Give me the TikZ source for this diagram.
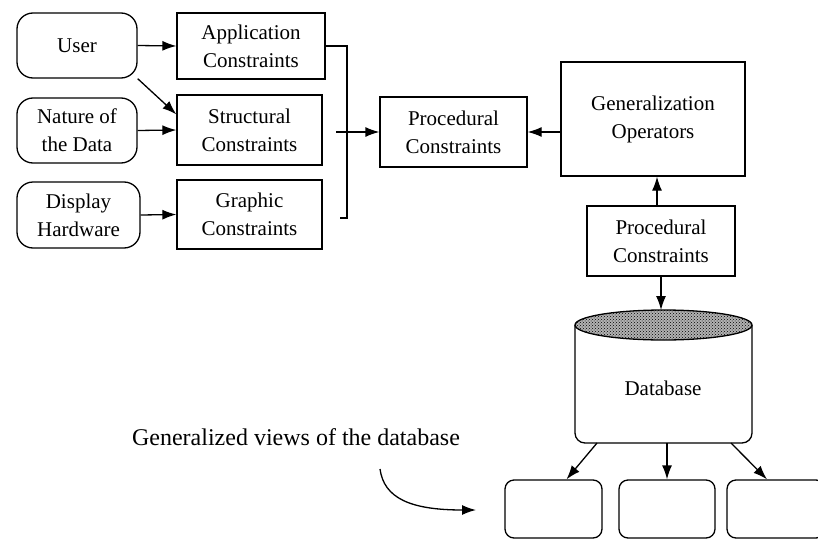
\documentclass[tikz,border=0pt]{standalone}
\usepackage{fontspec}
\setmainfont{Liberation Serif}
\usetikzlibrary{arrows.meta,patterns}
\begin{document}
\begin{tikzpicture}[x=1pt,y=-1pt,
  line width=1.3pt,
  every node/.style={font=\fontsize{21}{28}\selectfont, align=center, inner sep=0pt},
  source/.style={draw, rounded corners=16pt},
  cbox/.style={draw},
  view/.style={draw, rounded corners=9pt, minimum width=97pt, minimum height=58pt},
  arr/.style={-{Latex[length=14pt,width=10pt]}}]
\useasboundingbox (0,0) rectangle (818,543);

% sources of constraints
\node[source, minimum width=120pt, minimum height=65pt] (user) at (77,45.5) {User};
\node[source, minimum width=120pt, minimum height=65pt] (nat) at (77,130.5) {Nature of\\the Data};
\node[source, minimum width=123pt, minimum height=66pt] (disp) at (78.5,215) {Display\\Hardware};

% constraint groups
\node[cbox, minimum width=148pt, minimum height=66pt] (app) at (251,46) {Application\\Constraints};
\node[cbox, minimum width=145pt, minimum height=70pt] (struc) at (249.5,130) {Structural\\Constraints};
\node[cbox, minimum width=145pt, minimum height=69pt] (graph) at (249.5,214.5) {Graphic\\Constraints};

\node[cbox, minimum width=147pt, minimum height=70pt] (proc) at (453.5,132) {Procedural\\Constraints};
\node[cbox, minimum width=184pt, minimum height=114pt] (genop) at (653,119) {Generalization\\Operators};
\node[cbox, minimum width=148pt, minimum height=70pt] (proc2) at (661,241) {Procedural\\Constraints};

% database cylinder with a stippled top
\fill[black!30] (663.5,325) ellipse [x radius=88.5pt, y radius=15pt];
\fill[pattern=crosshatch dots, pattern color=black] (663.5,325) ellipse [x radius=88.5pt, y radius=15pt];
\draw (663.5,325) ellipse [x radius=88.5pt, y radius=15pt];
\draw[rounded corners=10pt] (575,325) -- (575,443) -- (752,443) -- (752,325);
\node (db) at (663,388) {Database};
\coordinate (dbtop) at (661,310);
\coordinate (dbl) at (597,443);
\coordinate (dbm) at (667,443);
\coordinate (dbr) at (731,443);

% generalized views
\node[view] (v1) at (553.5,509) {};
\node[view, minimum width=96pt] (v2) at (667,509) {};
\node[view, minimum width=98pt] (v3) at (776,509) {};
\node[font=\fontsize{24}{28}\selectfont] (lbl) at (296,437) {Generalized views of the database};
\coordinate (cstart) at (380,469);
\coordinate (cend) at (476,510);

% connectors
\draw[arr] (user.east) -- (app.west);
\draw[arr] (user.south east) -- ([yshift=-20pt]struc.north west);
\draw[arr] (nat.east) -- (struc.west);
\draw[arr] (disp.east) -- (graph.west);

\coordinate (bt) at (347,46);
\coordinate (bb) at (347,218);
\coordinate (bs) at (340,218);
\draw (app.east) -- (bt) -- (bb) -- (bs);
\coordinate (bin) at (336,132);
\draw[arr] (bin) -- (proc.west);

\draw[arr] (genop.west |- proc.east) -- (proc.east);
\draw[arr] ([xshift=-4pt]proc2.north) -- ([xshift=-4pt]proc2.north |- genop.south);
\draw[arr] (proc2.south) -- (dbtop);

\draw[arr] (dbl) -- ([xshift=13pt]v1.north);
\draw[arr] (dbm) -- (v2.north);
\draw[arr] (dbr) -- ([xshift=-9pt]v3.north);

\draw[arr] (cstart) .. controls (384,498) and (410,510) .. (cend);
\end{tikzpicture}
\end{document}
